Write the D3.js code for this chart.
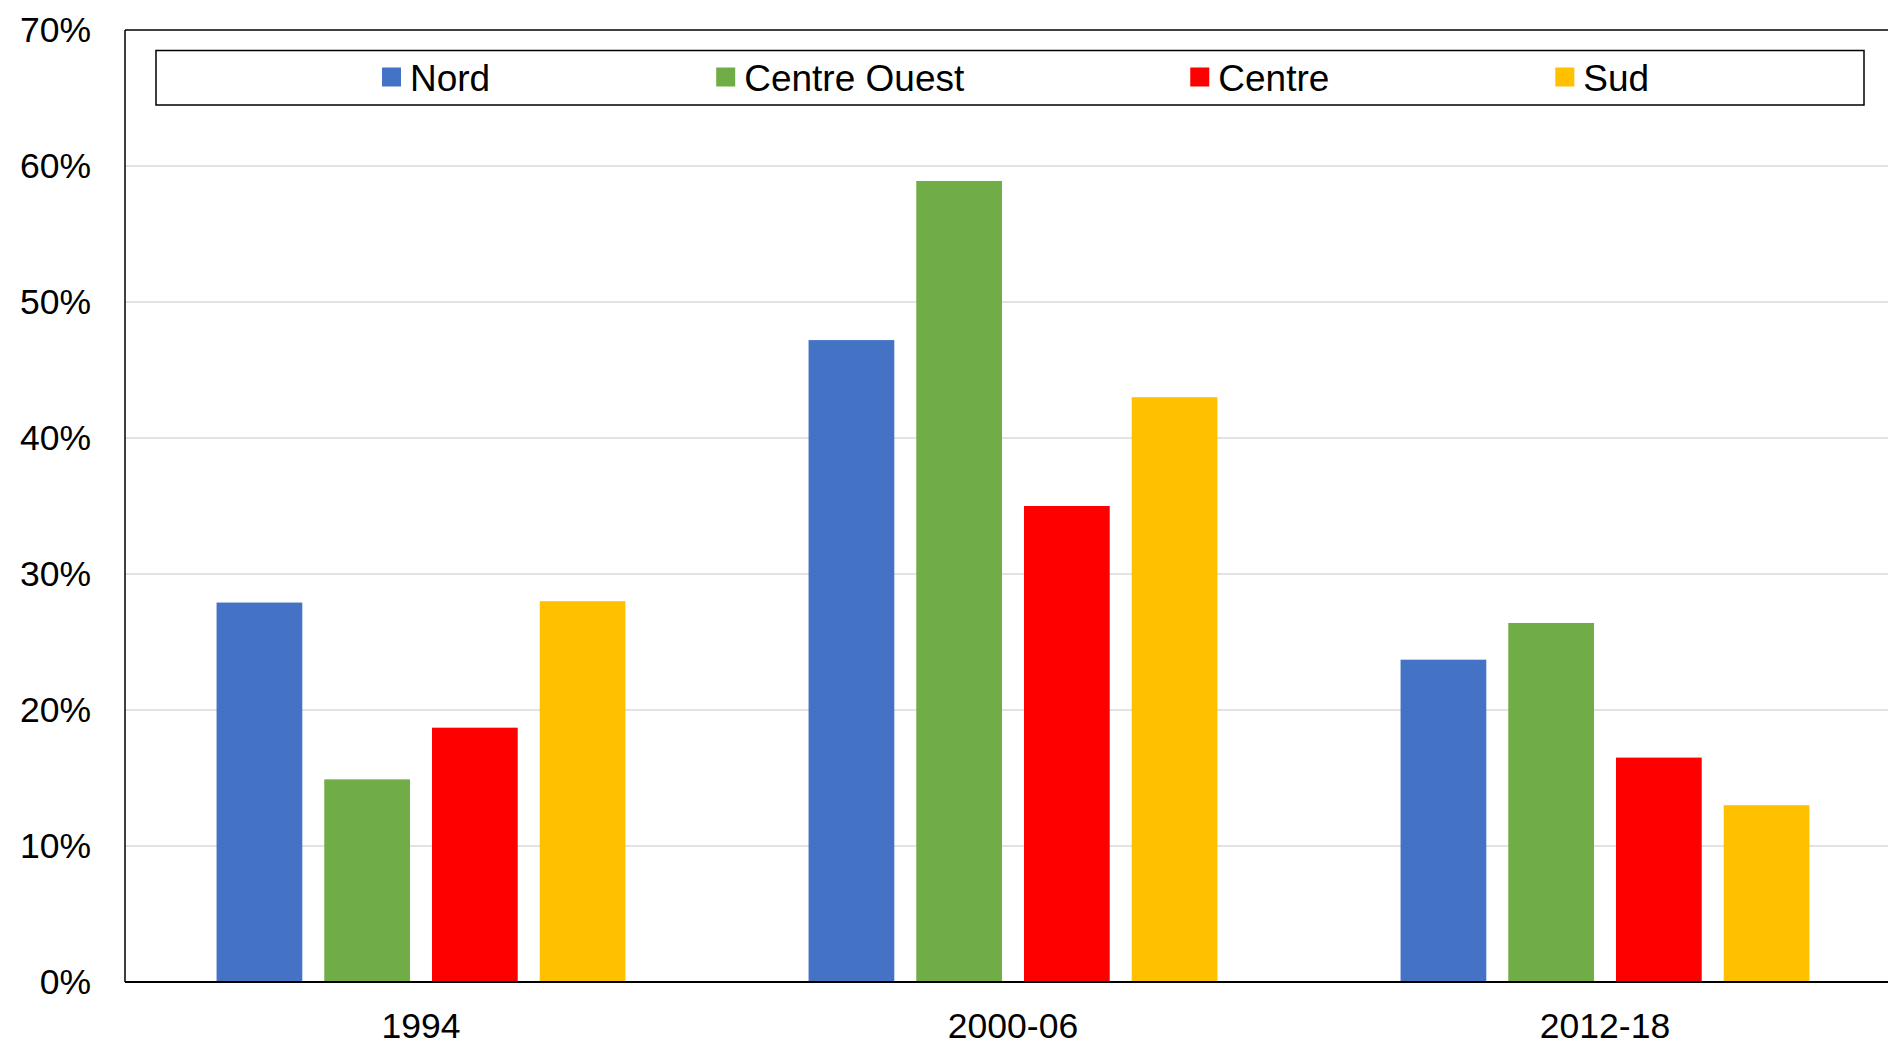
<!DOCTYPE html>
<html>
<head>
<meta charset="utf-8">
<script src="https://cdn.jsdelivr.net/npm/d3@7"></script>
<style>
  html, body { margin: 0; padding: 0; background: #fff; }
  svg { display: block; font-family: "Liberation Sans", Arial, sans-serif; }
</style>
</head>
<body>
<svg id="chart" width="1888" height="1045"></svg>
<script>
const categories = ["1994", "2000-06", "2012-18"];
const seriesNames = ["Nord", "Centre Ouest", "Centre", "Sud"];
const seriesColors = ["#4472C4", "#70AD47", "#FF0000", "#FFC000"];
const nord        = [0.279, 0.472, 0.237];
const centreOuest = [0.149, 0.589, 0.264];
const centre      = [0.187, 0.350, 0.165];
const sud         = [0.280, 0.430, 0.130];
const yTicks = [0, 0.1, 0.2, 0.3, 0.4, 0.5, 0.6, 0.7];

const seriesValues = [nord, centreOuest, centre, sud];

const W = 1888, H = 1045;
const plot = { left: 125, top: 30, right: 125 + 1776, bottom: 982 };

const svg = d3.select("#chart");

const y = d3.scaleLinear().domain([0, 0.7]).range([plot.bottom, plot.top]);
const x0 = d3.scaleBand().domain(categories).range([plot.left, plot.right]).paddingInner(0).paddingOuter(0);
const x1 = d3.scaleBand().domain(seriesNames).range([0, x0.bandwidth()]).paddingInner(0.204).paddingOuter(0.85);

// gridlines
svg.append("g")
  .selectAll("line")
  .data(yTicks.filter(t => t > 0 && t < 0.7))
  .join("line")
  .attr("x1", plot.left).attr("x2", W)
  .attr("y1", d => y(d)).attr("y2", d => y(d))
  .attr("stroke", "#d9d9d9").attr("stroke-width", 1.5);

// bars
const groups = svg.append("g").selectAll("g")
  .data(categories)
  .join("g")
  .attr("transform", d => `translate(${x0(d)},0)`);

groups.selectAll("rect")
  .data((c, ci) => seriesNames.map((s, si) => ({ s, si, v: seriesValues[si][ci] })))
  .join("rect")
  .attr("x", d => x1(d.s))
  .attr("width", x1.bandwidth())
  .attr("y", d => y(d.v))
  .attr("height", d => plot.bottom - y(d.v))
  .attr("fill", d => seriesColors[d.si]);

// frame: top & left
svg.append("line")
  .attr("x1", plot.left).attr("x2", W + 10)
  .attr("y1", plot.top).attr("y2", plot.top)
  .attr("stroke", "#000").attr("stroke-width", 1.5);
svg.append("line")
  .attr("x1", plot.left).attr("x2", plot.left)
  .attr("y1", plot.top).attr("y2", plot.bottom)
  .attr("stroke", "#000").attr("stroke-width", 1.5);

// y axis (labels only)
const yAxis = d3.axisLeft(y).tickValues(yTicks).tickFormat(d3.format(".0%")).tickSize(0).tickPadding(34);
const yg = svg.append("g").attr("transform", `translate(${plot.left},0)`).call(yAxis);
yg.select(".domain").remove();
yg.selectAll("text").attr("font-size", 35.5).attr("fill", "#000").attr("font-family", "Liberation Sans, Arial, sans-serif");

// x axis
const xAxis = d3.axisBottom(x0).tickSize(0).tickPadding(0);
const xg = svg.append("g").attr("transform", `translate(0,${plot.bottom})`).call(xAxis);
xg.select(".domain").remove();
xg.selectAll("text")
  .attr("font-size", 35.5).attr("fill", "#000")
  .attr("font-family", "Liberation Sans, Arial, sans-serif")
  .attr("y", 56).attr("dy", null);

svg.append("line")
  .attr("x1", plot.left).attr("x2", W + 10)
  .attr("y1", plot.bottom).attr("y2", plot.bottom)
  .attr("stroke", "#000").attr("stroke-width", 2.2);

// legend
const leg = { left: 156, right: 1864, top: 50.5, bottom: 105 };
svg.append("rect")
  .attr("x", leg.left).attr("y", leg.top)
  .attr("width", leg.right - leg.left).attr("height", leg.bottom - leg.top)
  .attr("fill", "#fff").attr("stroke", "#000").attr("stroke-width", 1.5);

const items = svg.append("g").selectAll("g")
  .data(seriesNames)
  .join("g");
items.append("rect")
  .attr("x", 0).attr("y", 67.5).attr("width", 19).attr("height", 19)
  .attr("fill", (d, i) => seriesColors[i]);
items.append("text")
  .attr("x", 28).attr("y", 90.5)
  .attr("font-size", 37).attr("fill", "#000")
  .text(d => d);

const widths = [];
items.each(function () {
  widths.push(28 + d3.select(this).select("text").node().getComputedTextLength());
});
const gap = 226;
let cx = leg.left + gap;
items.attr("transform", (d, i) => {
  const t = `translate(${cx},0)`;
  cx += widths[i] + gap;
  return t;
});
</script>
</body>
</html>
